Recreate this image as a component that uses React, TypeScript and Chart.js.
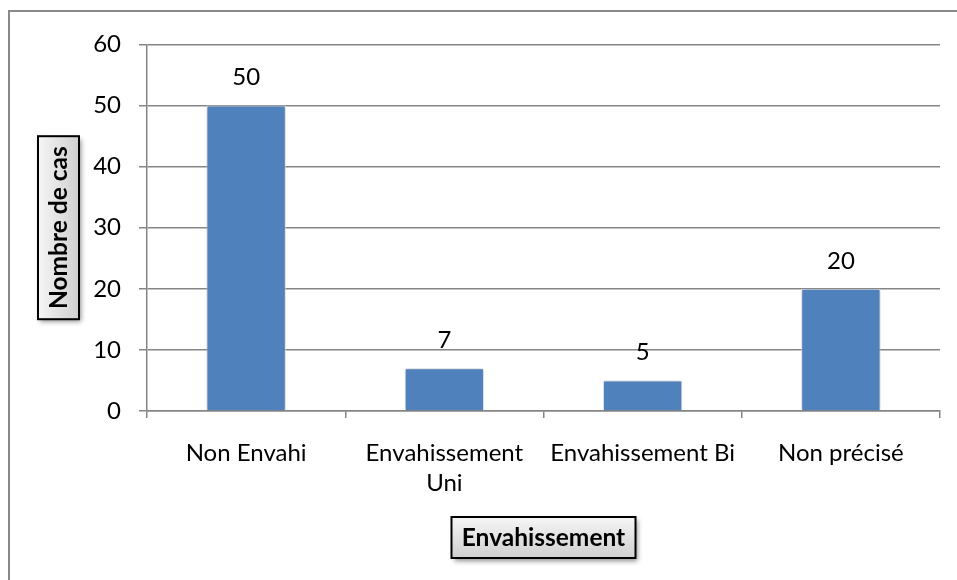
import React, { useEffect, useRef } from "react";
import { Chart, registerables } from "chart.js";

Chart.register(...registerables);

const categories: string[][] = [["Non Envahi"], ["Envahissement", "Uni"], ["Envahissement Bi"], ["Non précisé"]];
const values: number[] = [50, 7, 5, 20];
const yMin = 0;
const yMax = 60;
const yStep = 10;
const yTitle = "Nombre de cas";
const xTitle = "Envahissement";

const FONT = "Lato, 'Open Sans', sans-serif";
const GRID = "#858585";

function drawTitleBox(ctx: CanvasRenderingContext2D, cx: number, cy: number, w: number, h: number, text: string, rotate: boolean) {
  ctx.save();
  ctx.translate(cx, cy);
  if (rotate) ctx.rotate(-Math.PI / 2);
  ctx.save();
  ctx.shadowColor = "rgba(0,0,0,0.45)";
  ctx.shadowBlur = 5;
  ctx.shadowOffsetX = 2;
  ctx.shadowOffsetY = 3;
  ctx.fillStyle = "#d8d8d8";
  ctx.fillRect(-w / 2, -h / 2, w, h);
  ctx.restore();
  const g = ctx.createLinearGradient(0, -h / 2, 0, h / 2);
  g.addColorStop(0, "#f6f6f6");
  g.addColorStop(1, "#cfcfcf");
  ctx.fillStyle = g;
  ctx.fillRect(-w / 2, -h / 2, w, h);
  ctx.lineWidth = 2;
  ctx.strokeStyle = "#000000";
  ctx.strokeRect(-w / 2, -h / 2, w, h);
  ctx.fillStyle = "#000000";
  ctx.font = `bold 24.5px ${FONT}`;
  ctx.textAlign = "center";
  ctx.textBaseline = "middle";
  ctx.fillText(text, 0, 1);
  ctx.restore();
}

const decor = {
  id: "decor",
  beforeDatasetsDraw(chart: any) {
    const ctx = chart.ctx;
    ctx.save();
    ctx.shadowColor = "rgba(0,0,0,0.30)";
    ctx.shadowBlur = 4;
    ctx.shadowOffsetX = 0;
    ctx.shadowOffsetY = 0;
  },
  afterDatasetsDraw(chart: any) {
    const ctx = chart.ctx;
    ctx.restore();
    const meta = chart.getDatasetMeta(0);
    ctx.save();
    ctx.fillStyle = "#000000";
    ctx.font = `24px ${FONT}`;
    ctx.textAlign = "center";
    ctx.textBaseline = "middle";
    meta.data.forEach((bar: any, i: number) => {
      ctx.fillText(String(values[i]), bar.x, bar.y - 28);
    });
    ctx.restore();
  },
  afterDraw(chart: any) {
    const ctx = chart.ctx;
    const a = chart.chartArea;
    drawTitleBox(ctx, a.left - 88.5, (a.top + a.bottom) / 2, 183, 41, yTitle, true);
    drawTitleBox(ctx, (a.left + a.right) / 2, a.bottom + 126.5, 184, 41, xTitle, false);
  },
};

export default function App() {
  const ref = useRef<HTMLCanvasElement | null>(null);
  useEffect(() => {
    if (!ref.current) return;
    const chart = new Chart(ref.current, {
      type: "bar",
      data: {
        labels: categories,
        datasets: [
          {
            data: values,
            backgroundColor: "#4F81BD",
            borderColor: "#ffffff",
            borderWidth: 1,
            barPercentage: 0.4,
            categoryPercentage: 1,
          },
        ],
      },
      options: {
        animation: false,
        responsive: false,
        maintainAspectRatio: false,
        layout: { padding: { left: 0, top: 29, right: 17, bottom: 0 } },
        plugins: { legend: { display: false }, tooltip: { enabled: false } },
        scales: {
          x: {
            afterFit: (s: any) => {
              s.height = 169;
            },
            grid: { display: true, drawOnChartArea: false, drawTicks: true, tickLength: 7, color: GRID, lineWidth: 1.5, offset: true },
            border: { display: true, color: GRID, width: 1.5 },
            ticks: { color: "#000000", font: { family: FONT, size: 24, lineHeight: 1.25 }, padding: 20, maxRotation: 0, autoSkip: false },
          },
          y: {
            min: yMin,
            max: yMax,
            afterFit: (s: any) => {
              s.width = 137;
            },
            grid: { color: GRID, lineWidth: 1.5, tickLength: 8, drawTicks: true },
            border: { display: true, color: GRID, width: 1.5 },
            ticks: { stepSize: yStep, color: "#000000", font: { family: FONT, size: 24 }, padding: 18 },
          },
        },
      },
      plugins: [decor],
    });
    return () => chart.destroy();
  }, []);
  return (
    <div
      style={{
        position: "absolute",
        left: 8,
        top: 10,
        width: 949,
        height: 570,
        boxSizing: "border-box",
        borderTop: "2px solid #898989",
        borderLeft: "2px solid #898989",
        background: "#ffffff",
      }}
    >
      <canvas ref={ref} width={947} height={568} style={{ display: "block", width: 947, height: 568 }} />
    </div>
  );
}
